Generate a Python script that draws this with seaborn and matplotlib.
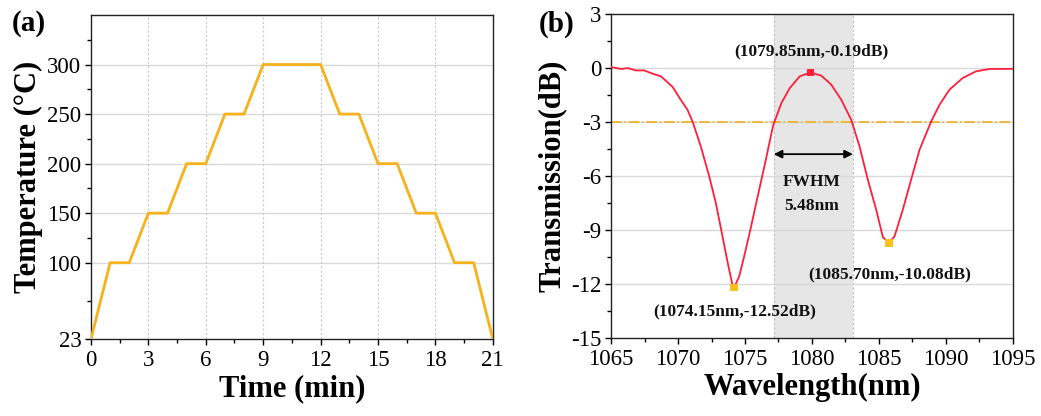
import numpy as np
import pandas as pd
import matplotlib
matplotlib.use("Agg")
import matplotlib.pyplot as plt
import seaborn as sns
from matplotlib.ticker import MultipleLocator, FixedLocator

# ─────────────────────────────────────────────
# DATA
# ─────────────────────────────────────────────
# (a) heating / cooling schedule
time_min = [0, 1, 2, 3, 4, 5, 6, 7, 8, 9, 12, 13, 14, 15, 16, 17, 18, 19, 20, 21]
temp_c   = [23, 100, 100, 150, 150, 200, 200, 250, 250, 300,
            300, 250, 250, 200, 200, 150, 150, 100, 100, 23]
temp_ticks = [23, 100, 150, 200, 250, 300]

# (b) transmission spectrum
wavelength = [1065.0, 1065.75, 1066.24, 1066.86, 1067.48, 1068.1, 1068.73,
              1069.6, 1070.2, 1070.7, 1071.08, 1071.7, 1072.33, 1072.82,
              1073.32, 1073.7, 1074.06, 1074.19, 1074.56, 1074.93, 1075.4,
              1075.9, 1076.5, 1077.1, 1077.72, 1078.34, 1079.08, 1079.88,
              1080.7, 1081.44, 1082.19, 1082.93, 1083.55, 1084.17, 1084.8,
              1085.29, 1085.74, 1086.16, 1086.78, 1087.4, 1088.03, 1088.9,
              1089.52, 1090.26, 1091.25, 1092.25, 1093.24, 1095.0]
transmission = [0.04, -0.07, -0.02, -0.15, -0.15, -0.33, -0.48,
                -1.07, -1.78, -2.33, -2.98, -4.37, -6.04, -7.5,
                -9.37, -10.8, -12.06, -12.2, -11.6, -10.5, -9.0,
                -7.3, -5.3, -3.2, -1.96, -1.13, -0.48, -0.26,
                -0.44, -0.94, -1.78, -2.89, -4.37, -6.22, -7.9,
                -9.4, -9.74, -9.37, -7.89, -6.22, -4.56, -2.98,
                -2.06, -1.22, -0.57, -0.2, -0.07, -0.06]

peak_wl, peak_db = 1079.88, -0.26
dips_wl = [1074.19, 1085.74]
dips_db = [-12.2, -9.74]
fwhm_lo, fwhm_hi = 1077.15, 1083.05
half_level = -3

# ─────────────────────────────────────────────
# STYLE
# ─────────────────────────────────────────────
sns.set_theme(style="ticks")
plt.rcParams["font.family"] = ["Liberation Serif", "DejaVu Serif"]
plt.rcParams["axes.unicode_minus"] = False
plt.rcParams["text.color"] = "black"
plt.rcParams["axes.labelcolor"] = "black"

ORANGE = "#F7B11B"
RED = "#FF1F3A"
GOLD = "#FFBF1A"
GRID = "#D9D9D9"

fig = plt.figure(figsize=(10.41, 4.16), dpi=100)
ax1 = fig.add_axes([0.0874, 0.185, 0.386, 0.779])
ax2 = fig.add_axes([0.587, 0.188, 0.386, 0.779])


def style_axes(ax):
    for sp in ax.spines.values():
        sp.set_linewidth(1.0)
        sp.set_color("#222222")
    ax.tick_params(which="major", direction="out", length=4, width=1,
                   labelsize=16.5, colors="black", pad=3)
    ax.tick_params(axis="x", which="major", pad=4)
    ax.tick_params(which="minor", direction="out", length=3, width=1,
                   colors="black")


# ─────────────────────────────────────────────
# (a) temperature
# ─────────────────────────────────────────────
df_a = pd.DataFrame({"time": time_min, "temp": temp_c})
sns.lineplot(data=df_a, x="time", y="temp", ax=ax1, color=ORANGE, lw=2,
             zorder=3)
ax1.set_xlim(0, 21)
ax1.set_ylim(23, 350)
ax1.xaxis.set_major_locator(MultipleLocator(3))
ax1.xaxis.set_minor_locator(MultipleLocator(1.5))
ax1.yaxis.set_major_locator(FixedLocator(temp_ticks))
ax1.yaxis.set_minor_locator(FixedLocator([61.5, 125, 175, 225, 275, 325]))
for t in temp_ticks[1:]:
    ax1.axhline(t, color=GRID, lw=1, zorder=1)
for t in range(3, 21, 3):
    ax1.axvline(t, color="#C8C8C8", lw=0.8, ls=(0, (2, 2)), zorder=1)
style_axes(ax1)
ax1.set_xlabel("Time (min)", fontsize=22, fontweight="bold", labelpad=2)
ax1.set_ylabel("Temperature (°C)", fontsize=22, fontweight="bold", labelpad=3)
fig.text(0.011, 0.975, "(a)", fontsize=21, fontweight="bold", va="top")

# ─────────────────────────────────────────────
# (b) transmission
# ─────────────────────────────────────────────
ax2.axvspan(fwhm_lo, fwhm_hi, color="#E6E6E6", zorder=0, lw=0)
for x in (fwhm_lo, fwhm_hi):
    ax2.axvline(x, color="#BDBDBD", lw=0.8, ls=(0, (2, 2)), zorder=1)
for t in [0, -3, -6, -9, -12]:
    ax2.axhline(t, color=GRID, lw=1, zorder=1)
ax2.axhline(half_level, color="#F0B020", lw=1.2, ls="-.", zorder=2)

df_b = pd.DataFrame({"wl": wavelength, "db": transmission})
sns.lineplot(data=df_b, x="wl", y="db", ax=ax2, color=RED, lw=1.3, zorder=3)
ax2.scatter([peak_wl], [peak_db], marker="s", s=28, color=RED, zorder=4,
            edgecolors="none")
ax2.scatter(dips_wl, dips_db, marker="s", s=28, color=GOLD, zorder=4,
            edgecolors="none")

ax2.annotate("", xy=(fwhm_lo, -4.8), xytext=(fwhm_hi, -4.8),
             arrowprops=dict(arrowstyle="<|-|>", color="black", lw=1.3,
                             mutation_scale=12, shrinkA=0, shrinkB=0))
ann = dict(fontsize=12.5, fontweight="bold", ha="center", va="center",
           color="#111111")
ax2.text(1080.0, -6.35, "FWHM", **ann)
ax2.text(1080.0, -7.7, "5.48nm", **ann)
ax2.text(1079.95, 0.93, "(1079.85nm,-0.19dB)", **ann)
ax2.text(1085.8, -11.5, "(1085.70nm,-10.08dB)", **ann)
ax2.text(1074.2, -13.55, "(1074.15nm,-12.52dB)", **ann)

ax2.set_xlim(1065, 1095)
ax2.set_ylim(-15, 3)
ax2.xaxis.set_major_locator(MultipleLocator(5))
ax2.xaxis.set_minor_locator(MultipleLocator(2.5))
ax2.yaxis.set_major_locator(MultipleLocator(3))
ax2.yaxis.set_minor_locator(MultipleLocator(1.5))
style_axes(ax2)
ax2.set_xlabel("Wavelength(nm)", fontsize=22, fontweight="bold", labelpad=2)
ax2.set_ylabel("Transmission(dB)", fontsize=22, fontweight="bold", labelpad=3)
fig.text(0.518, 0.975, "(b)", fontsize=21, fontweight="bold", va="top")

fig.savefig("out.png", dpi=100)
